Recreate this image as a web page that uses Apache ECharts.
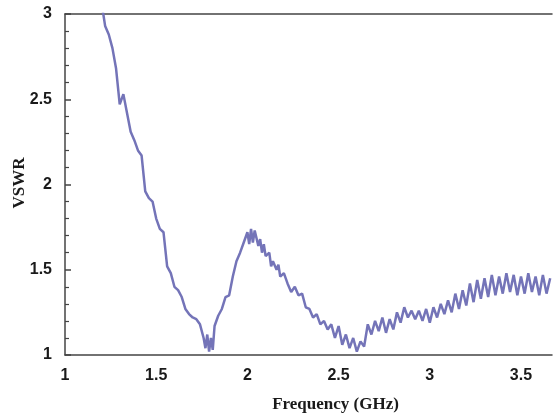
<!DOCTYPE html>
<html><head><meta charset="utf-8">
<script src="https://cdn.jsdelivr.net/npm/echarts@6/dist/echarts.min.js"></script>
<style>html,body{margin:0;padding:0;background:#fff}#c{width:554px;height:414px}</style>
</head><body><div id="c"></div>
<script>
var freq = [1.20,1.21,1.22,1.24,1.26,1.28,1.30,1.32,1.34,1.36,1.38,1.40,1.42,1.44,1.46,1.48,1.50,1.52,1.54,1.56,1.58,1.60,1.62,1.64,1.66,1.68,1.70,1.72,1.74,1.76,1.77,1.78,1.79,1.80,1.81,1.82,1.84,1.86,1.88,1.90,1.92,1.94,1.96,1.98,2.00,2.01,2.02,2.03,2.04,2.06,2.07,2.08,2.09,2.10,2.12,2.13,2.14,2.16,2.17,2.18,2.20,2.22,2.24,2.26,2.28,2.30,2.32,2.34,2.36,2.38,2.40,2.42,2.44,2.46,2.48,2.50,2.52,2.54,2.56,2.58,2.60,2.62,2.64,2.66,2.68,2.70,2.72,2.74,2.76,2.78,2.80,2.82,2.84,2.86,2.88,2.90,2.92,2.94,2.96,2.98,3.00,3.02,3.04,3.06,3.08,3.10,3.12,3.14,3.16,3.18,3.20,3.22,3.24,3.26,3.28,3.30,3.32,3.34,3.36,3.38,3.40,3.42,3.44,3.46,3.48,3.50,3.52,3.54,3.56,3.58,3.60,3.62,3.64,3.66];
var vswr = [3.05,3.00,2.93,2.88,2.80,2.68,2.47,2.53,2.42,2.31,2.26,2.20,2.17,1.96,1.92,1.90,1.80,1.74,1.72,1.52,1.48,1.40,1.38,1.34,1.27,1.24,1.22,1.21,1.18,1.10,1.04,1.12,1.02,1.10,1.03,1.17,1.23,1.27,1.34,1.35,1.46,1.55,1.60,1.66,1.72,1.65,1.74,1.66,1.73,1.64,1.68,1.60,1.65,1.58,1.60,1.52,1.55,1.50,1.53,1.46,1.48,1.42,1.37,1.40,1.35,1.36,1.28,1.27,1.22,1.24,1.18,1.20,1.15,1.18,1.10,1.17,1.06,1.12,1.04,1.10,1.02,1.08,1.05,1.18,1.12,1.20,1.14,1.22,1.13,1.21,1.15,1.25,1.19,1.28,1.22,1.26,1.21,1.26,1.20,1.27,1.19,1.28,1.22,1.30,1.24,1.32,1.25,1.36,1.27,1.38,1.29,1.42,1.31,1.44,1.33,1.45,1.34,1.47,1.35,1.46,1.36,1.48,1.37,1.47,1.35,1.46,1.36,1.48,1.37,1.46,1.35,1.47,1.36,1.45];
var xTicks = [1, 1.5, 2, 2.5, 3, 3.5];
var yTicks = [1, 1.5, 2, 2.5, 3];

var data = freq.map(function(f, i){ return [f, vswr[i]]; });
var chart = echarts.init(document.getElementById('c'), null, {renderer:'canvas'});
var lblFont = {color:'#1a1a1a', fontFamily:'Liberation Sans', fontWeight:'bold', fontSize:16};
chart.setOption({
  animation:false,
  grid:{left:65, right:2, top:14, bottom:59, containLabel:false, outerBoundsMode:'none'},
  graphic:[{
    type:'text', x:20, y:183, rotation:Math.PI/2,
    style:{text:'VSWR', fill:'#1a1a1a', font:'bold 17px "Liberation Serif"', align:'center', verticalAlign:'middle'}
  }],
  xAxis:[{
    type:'value', min:1, max:3.67, interval:0.5, position:'bottom',
    axisLine:{show:true, lineStyle:{color:'#444', width:1.5}},
    axisTick:{show:false}, splitLine:{show:false},
    axisLabel:Object.assign({margin:13, showMaxLabel:false, formatter:function(v){ return xTicks.indexOf(v)>=0 ? String(v) : ''; }}, lblFont),
    name:'Frequency (GHz)', nameLocation:'middle', nameGap:41,
    nameTextStyle:{fontFamily:'Liberation Serif', fontWeight:'bold', fontSize:17, color:'#1a1a1a', padding:[0,0,0,54]}
  },{
    type:'value', min:1, max:3.67, position:'top',
    axisLine:{show:true, lineStyle:{color:'#444', width:1.5}},
    axisTick:{show:false}, axisLabel:{show:false}, splitLine:{show:false}
  }],
  yAxis:{
    type:'value', min:1, max:3, interval:0.5,
    axisLine:{show:true, lineStyle:{color:'#444', width:1.5}},
    axisTick:{show:true, inside:true, length:6, lineStyle:{color:'#444', width:1.5}},
    minorTick:{show:true, splitNumber:5, length:4, lineStyle:{color:'#444', width:1.2}},
    splitLine:{show:false},
    axisLabel:Object.assign({margin:13, formatter:function(v){ return yTicks.indexOf(v)>=0 ? String(v) : ''; }}, lblFont)
  },
  series:[{
    type:'line', data:data, xAxisIndex:0, showSymbol:false, clip:true,
    lineStyle:{color:'#7474b8', width:2.5}
  }]
});
</script></body></html>
